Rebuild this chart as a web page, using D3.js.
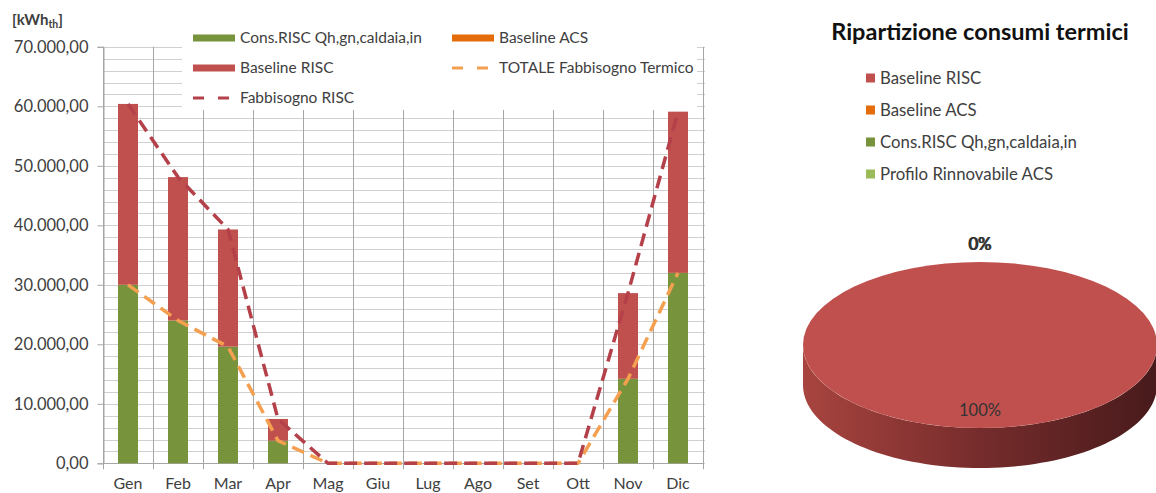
<!DOCTYPE html>
<html>
<head>
<meta charset="utf-8">
<script src="https://cdn.jsdelivr.net/npm/d3@7/dist/d3.min.js"></script>
<style>
  html, body { margin: 0; padding: 0; background: #fff; }
  svg { display: block; font-family: Lato, "Open Sans", sans-serif; }
</style>
</head>
<body>
<svg id="chart" width="1156" height="493"></svg>
<script>
// Monthly thermal consumption (kWh_th)
const months = ["Gen", "Feb", "Mar", "Apr", "Mag", "Giu", "Lug", "Ago", "Set", "Ott", "Nov", "Dic"];
const consRisc = [30000, 24000, 19600, 3800, 0, 0, 0, 0, 0, 0, 14200, 32000];
const baselineAcs = [0, 0, 0, 0, 0, 0, 0, 0, 0, 0, 0, 0];
const baselineRisc = [30400, 24100, 19700, 3650, 0, 0, 0, 0, 0, 0, 14400, 27100];
const totaleFabbisogno = [30000, 24000, 19600, 3800, 0, 0, 0, 0, 0, 0, 14200, 32000];
const fabbisognoRisc = [60400, 48100, 39300, 7450, 0, 0, 0, 0, 0, 0, 28600, 59100];
const yTicks = [0, 10000, 20000, 30000, 40000, 50000, 60000, 70000];

// Yearly split for the pie
const pieLabels = ["Baseline RISC", "Baseline ACS", "Cons.RISC Qh,gn,caldaia,in", "Profilo Rinnovabile ACS"];
const pieValues = [100, 0, 0, 0];

const colors = {
  consRisc: "#77933C",
  baselineAcs: "#E46C0A",
  baselineRisc: "#C0504D",
  totale: "#F4A050",
  fabbisogno: "#B4404A",
  rinnovabile: "#9BBB59"
};
const pieColors = [colors.baselineRisc, colors.baselineAcs, colors.consRisc, colors.rinnovabile];

const svg = d3.select("#chart");
const textColor = "#404040";

// ---------- Stacked bar + line chart ----------
const plot = { left: 103, right: 703, top: 46.8, bottom: 463.3 };

const x = d3.scaleBand()
  .domain(months)
  .range([plot.left, plot.right])
  .paddingInner(0.6)
  .paddingOuter(0.3);

const y = d3.scaleLinear().domain([0, 70000]).range([plot.bottom, plot.top]);

const g = svg.append("g");

// horizontal gridlines every 2000
const minor = d3.range(0, 70001, 2000);
g.append("g").selectAll("line").data(minor).join("line")
  .attr("x1", plot.left).attr("x2", plot.right + 2)
  .attr("y1", d => Math.round(y(d)) + 0.5).attr("y2", d => Math.round(y(d)) + 0.5)
  .attr("stroke", "#D0D0D0").attr("stroke-width", 1);

// vertical category separators (with tick below axis)
const sepX = d3.range(0, months.length + 1).map(i => plot.left + i * x.step());
g.append("g").selectAll("line").data(sepX).join("line")
  .attr("x1", d => Math.round(d) + 0.5).attr("x2", d => Math.round(d) + 0.5)
  .attr("y1", plot.top).attr("y2", plot.bottom + 6)
  .attr("stroke", "#A6A6A6").attr("stroke-width", 1);

// y axis ticks + labels
const yAxis = d3.axisLeft(y)
  .tickValues(yTicks)
  .tickSize(6)
  .tickPadding(9)
  .tickFormat(d => d3.format(",.2f")(d).replace(/,/g, "#").replace(".", ",").replace(/#/g, "."));
const ya = g.append("g").attr("transform", `translate(${plot.left + 0.5},0)`).call(yAxis);
ya.select(".domain").attr("stroke", "#A6A6A6");
ya.selectAll(".tick line").attr("stroke", "#A6A6A6");
ya.selectAll(".tick text").attr("fill", textColor).style("font-size", "16.5px").style("font-family", "Lato, sans-serif");

// x axis
const xAxis = d3.axisBottom(x).tickSize(0).tickPadding(14);
const xa = g.append("g").attr("transform", `translate(0,${Math.round(plot.bottom) + 0.5})`).call(xAxis);
xa.select(".domain").attr("stroke", "#A6A6A6").attr("d", `M${plot.left},0H${plot.right}`);
xa.selectAll(".tick text").attr("fill", textColor).style("font-size", "16px").style("font-family", "Lato, sans-serif");

// stacked bars
const rows = months.map((m, i) => ({ month: m, consRisc: consRisc[i], baselineAcs: baselineAcs[i], baselineRisc: baselineRisc[i] }));
const stack = d3.stack().keys(["consRisc", "baselineAcs", "baselineRisc"])(rows);
g.append("g").selectAll("g").data(stack).join("g")
  .attr("fill", d => colors[d.key])
  .selectAll("rect").data(d => d).join("rect")
  .attr("x", d => x(d.data.month))
  .attr("width", x.bandwidth())
  .attr("y", d => y(d[1]))
  .attr("height", d => y(d[0]) - y(d[1]));

// dashed lines
const line = d3.line()
  .x((d, i) => x(months[i]) + x.bandwidth() / 2)
  .y(d => y(d));
g.append("path").datum(totaleFabbisogno)
  .attr("d", line).attr("fill", "none")
  .attr("stroke", colors.totale).attr("stroke-width", 3.5)
  .attr("stroke-dasharray", "13,7");
g.append("path").datum(fabbisognoRisc)
  .attr("d", line).attr("fill", "none")
  .attr("stroke", colors.fabbisogno).attr("stroke-width", 3.5)
  .attr("stroke-dasharray", "13,7");

// legend (white panel over the grid)
g.append("rect").attr("x", 182).attr("y", 10).attr("width", 515).attr("height", 100).attr("fill", "#fff");
const legendItems = [
  { label: "Cons.RISC Qh,gn,caldaia,in", type: "bar", color: colors.consRisc, x: 193, y: 38 },
  { label: "Baseline ACS", type: "bar", color: colors.baselineAcs, x: 452, y: 38 },
  { label: "Baseline RISC", type: "bar", color: colors.baselineRisc, x: 193, y: 68 },
  { label: "TOTALE Fabbisogno Termico", type: "line", color: colors.totale, x: 452, y: 68 },
  { label: "Fabbisogno RISC", type: "line", color: colors.fabbisogno, x: 193, y: 98 }
];
const lg = g.append("g").selectAll("g").data(legendItems).join("g")
  .attr("transform", d => `translate(${d.x},${d.y})`);
lg.filter(d => d.type === "bar").append("rect")
  .attr("x", 0).attr("y", -3.5).attr("width", 42).attr("height", 7).attr("fill", d => d.color);
lg.filter(d => d.type === "line").append("line")
  .attr("x1", 0).attr("x2", 38).attr("y1", 0).attr("y2", 0)
  .attr("stroke", d => d.color).attr("stroke-width", 3).attr("stroke-dasharray", "11,14");
lg.append("text")
  .attr("x", 47).attr("y", 0).attr("dy", "0.35em")
  .attr("fill", textColor).style("font-size", "15.5px")
  .text(d => d.label);

// unit label
const unit = svg.append("text").attr("x", 12).attr("y", 25)
  .attr("fill", textColor).style("font-size", "15px").style("font-weight", "bold");
unit.append("tspan").text("[kWh");
unit.append("tspan").attr("dy", 3).style("font-size", "10.5px").text("th");
unit.append("tspan").attr("dy", -3).text("]");

// ---------- 3D pie ----------
const pc = { cx: 980, cy: 345, rx: 177, ry: 83, depth: 40 };

svg.append("text")
  .attr("x", pc.cx).attr("y", 40).attr("text-anchor", "middle")
  .attr("fill", "#111").style("font-size", "23.5px").style("font-weight", "bold")
  .text("Ripartizione consumi termici");

const pl = svg.append("g").selectAll("g").data(pieLabels).join("g")
  .attr("transform", (d, i) => `translate(866,${78 + i * 32})`);
pl.append("rect").attr("x", 0).attr("y", -4.5).attr("width", 9).attr("height", 9)
  .attr("fill", (d, i) => pieColors[i]);
pl.append("text").attr("x", 14).attr("y", 0).attr("dy", "0.35em")
  .attr("fill", textColor).style("font-size", "16.8px").text(d => d);

const defs = svg.append("defs");
const grad = defs.append("linearGradient").attr("id", "sideGrad")
  .attr("gradientUnits", "userSpaceOnUse")
  .attr("x1", pc.cx - pc.rx).attr("x2", pc.cx + pc.rx).attr("y1", 0).attr("y2", 0);
grad.append("stop").attr("offset", "0%").attr("stop-color", "#A8443F");
grad.append("stop").attr("offset", "50%").attr("stop-color", "#762C2C");
grad.append("stop").attr("offset", "100%").attr("stop-color", "#481A1B");

const arcs = d3.pie().sort(null).value(d => d)(pieValues);

// side wall: front half of each slice
const sideG = svg.append("g");
arcs.forEach((a, i) => {
  if (a.value <= 0) return;
  const s = Math.max(a.startAngle, Math.PI / 2), e = Math.min(a.endAngle, 3 * Math.PI / 2);
  if (e <= s) return;
  const n = 80;
  const top = d3.range(n + 1).map(k => {
    const t = s + (e - s) * k / n;
    return [pc.cx + pc.rx * Math.sin(t), pc.cy - pc.ry * Math.cos(t)];
  });
  const bot = top.map(p => [p[0], p[1] + pc.depth]).reverse();
  sideG.append("path")
    .attr("d", d3.line()(top.concat(bot)) + "Z")
    .attr("fill", "url(#sideGrad)");
});

// top face
const arcGen = d3.arc().innerRadius(0).outerRadius(pc.rx);
svg.append("g")
  .attr("transform", `translate(${pc.cx},${pc.cy}) scale(1,${pc.ry / pc.rx})`)
  .selectAll("path").data(arcs.filter(a => a.value > 0)).join("path")
  .attr("d", arcGen)
  .attr("fill", d => pieColors[d.index]);

// percentage labels
const total = d3.sum(pieValues);
svg.append("g").selectAll("text").data(arcs).join("text")
  .attr("x", d => {
    const m = (d.startAngle + d.endAngle) / 2, f = d.value > 0 ? 0.75 : 1.25;
    return pc.cx + f * pc.rx * Math.sin(m) + (d.value > 0 ? 0 : (d.index - 2) * 0.6);
  })
  .attr("y", d => {
    const m = (d.startAngle + d.endAngle) / 2, f = d.value > 0 ? 0.75 : 1.25;
    return pc.cy - f * pc.ry * Math.cos(m) + 3;
  })
  .attr("dy", "0.35em").attr("text-anchor", "middle")
  .attr("fill", d => d.value > 0 ? "#333" : "#333")
  .style("font-size", "16.5px")
  .text(d => Math.round(d.value / total * 100) + "%");
</script>
</body>
</html>
